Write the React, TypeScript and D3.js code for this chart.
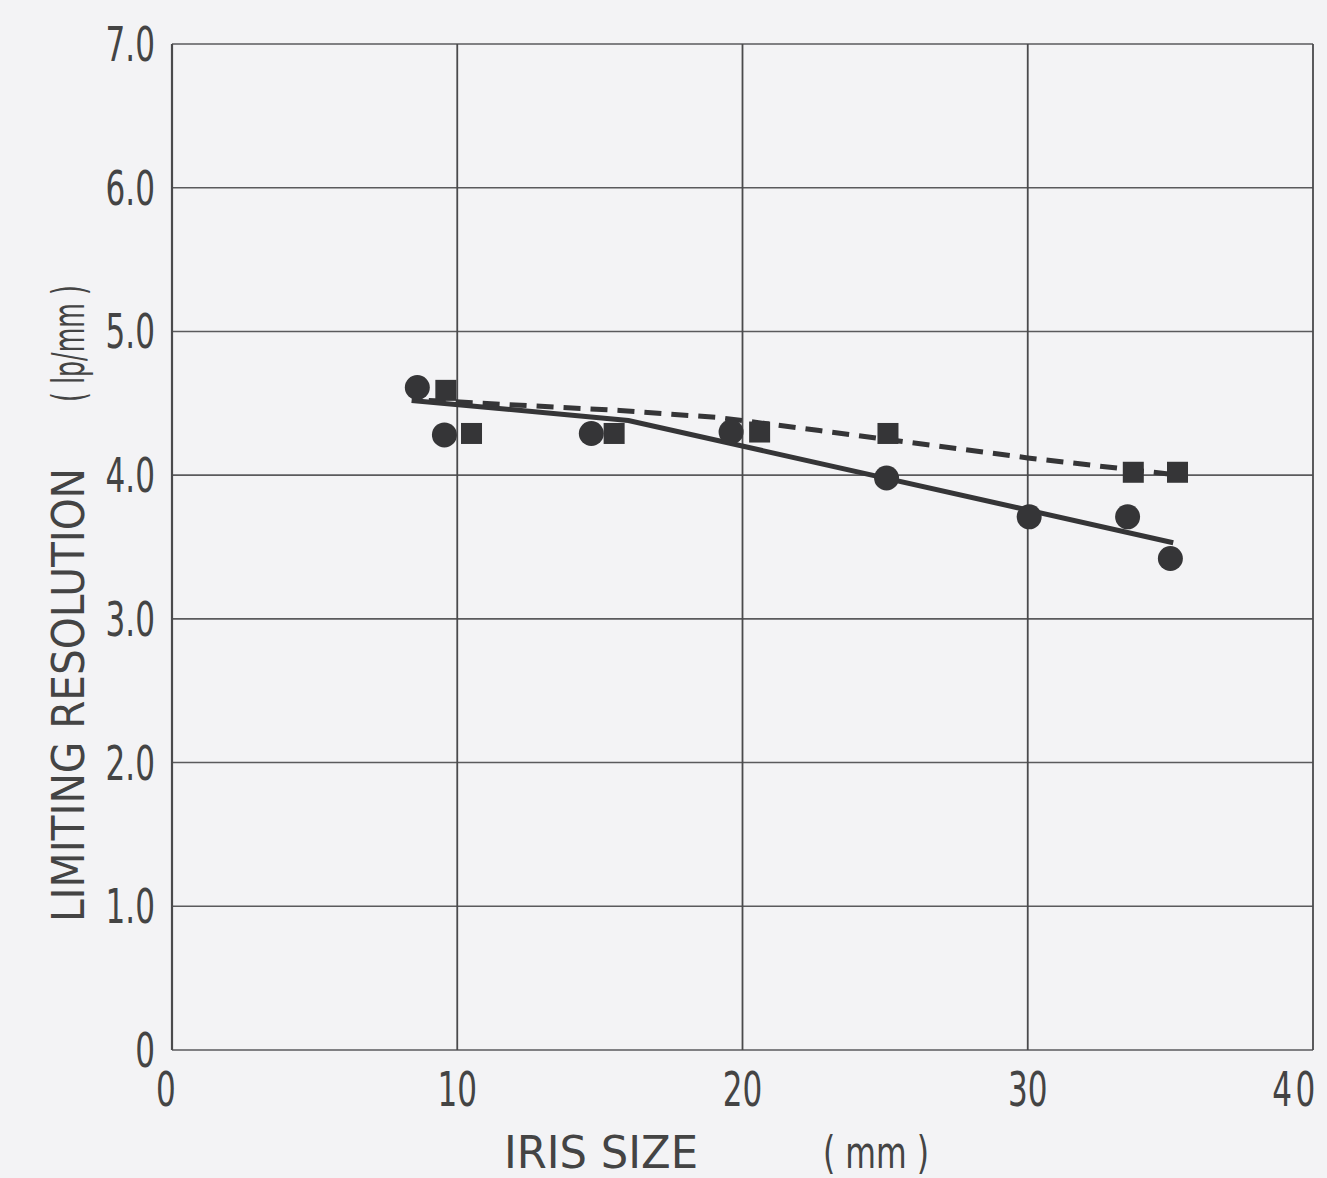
import React from "react";
import * as d3 from "d3";

// circles (solid series)
const circleX = [8.6, 9.55, 14.7, 19.6, 25.05, 30.05, 33.5, 35.0];
const circleY = [4.61, 4.28, 4.29, 4.3, 3.98, 3.71, 3.71, 3.42];
// squares (dashed series)
const squareX = [9.6, 10.5, 15.5, 20.6, 25.1, 33.7, 35.25];
const squareY = [4.59, 4.29, 4.29, 4.3, 4.29, 4.02, 4.02];
// fitted curves
const solidX = [8.4, 16.0, 35.1];
const solidY = [4.52, 4.38, 3.53];
const dashX = [9.0, 15.7, 19.2, 22.7, 30.0, 35.3];
const dashY = [4.52, 4.45, 4.4, 4.31, 4.12, 4.0];

const xTicks = [0, 10, 20, 30, 40];
const yTicks = [0, 1, 2, 3, 4, 5, 6, 7];
const yTickLabels = ["0", "1.0", "2.0", "3.0", "4.0", "5.0", "6.0", "7.0"];

const W = 1327;
const H = 1178;
const ink = "#353537";
const font = "'Liberation Sans Narrow', 'DejaVu Sans Condensed', sans-serif";

const x = d3.scaleLinear().domain([0, 40]).range([172, 1313]);
const y = d3.scaleLinear().domain([0, 7]).range([1050, 44]);

const line = d3
	.line<[number, number]>()
	.x(d => x(d[0]))
	.y(d => y(d[1]));

export default function App() {
	const solid = solidX.map((v, i) => [v, solidY[i]] as [number, number]);
	const dashed = dashX.map((v, i) => [v, dashY[i]] as [number, number]);
	return (
		<svg
			width={W}
			height={H}
			style={{ position: "absolute", left: 0, top: 0 }}
			viewBox={`0 0 ${W} ${H}`}>
			<rect width={W} height={H} fill="#f3f3f5" />
			{/* grid */}
			{yTicks.map(t => (
				<line
					key={"gy" + t}
					x1={x(0)}
					x2={x(40)}
					y1={y(t)}
					y2={y(t)}
					stroke="#5a5a5c"
					strokeWidth={1.6}
				/>
			))}
			{xTicks.map(t => (
				<line
					key={"gx" + t}
					x1={x(t)}
					x2={x(t)}
					y1={y(0)}
					y2={y(7)}
					stroke="#4a4a4c"
					strokeWidth={t === 0 ? 2.2 : 1.8}
				/>
			))}
			{/* curves */}
			<path d={line(solid) || ""} fill="none" stroke={ink} strokeWidth={5} />
			<path
				d={line(dashed) || ""}
				fill="none"
				stroke={ink}
				strokeWidth={5}
				strokeDasharray="17 10"
			/>
			{/* markers */}
			{circleX.map((v, i) => (
				<circle key={"c" + i} cx={x(v)} cy={y(circleY[i])} r={12.5} fill={ink} />
			))}
			{squareX.map((v, i) => (
				<rect
					key={"s" + i}
					x={x(v) - 10.5}
					y={y(squareY[i]) - 10.5}
					width={21}
					height={21}
					fill={ink}
				/>
			))}
			{/* y tick labels */}
			{yTicks.map((t, i) => (
				<text
					key={"ly" + t}
					transform={`translate(155, ${y(t) + 17}) scale(0.72, 1)`}
					textAnchor="end"
					fontFamily={font}
					fontSize={48}
					fill="#444">
					{yTickLabels[i]}
				</text>
			))}
			{/* x tick labels */}
			{xTicks.map(t => (
				<text
					key={"lx" + t}
					transform={`translate(${t === 40 ? x(t) + 6 : t === 0 ? x(t) - 6 : x(t)}, 1106) scale(0.72, 1)`}
					textAnchor={t === 40 ? "end" : "middle"}
					fontFamily={font}
					fontSize={48}
					letterSpacing={t === 40 ? 5 : 0}
					fill="#444">
					{t}
				</text>
			))}
			{/* axis titles */}
			<text
				x={504}
				y={1168}
				fontFamily={font}
				fontSize={44}
				fill="#444"
				textLength={194}
				lengthAdjust="spacingAndGlyphs">
				IRIS SIZE
			</text>
			<text
				x={823}
				y={1168}
				fontFamily={font}
				fontSize={44}
				fill="#444"
				textLength={106}
				lengthAdjust="spacingAndGlyphs">
				( mm )
			</text>
			<g transform="translate(84, 922) rotate(-90)">
				<text
					x={0}
					y={0}
					fontFamily={font}
					fontSize={45}
					fill="#444"
					textLength={454}
					lengthAdjust="spacingAndGlyphs">
					LIMITING RESOLUTION
				</text>
				<text
					x={520}
					y={0}
					fontFamily={font}
					fontSize={45}
					fill="#444"
					textLength={117}
					lengthAdjust="spacingAndGlyphs">
					( lp/mm )
				</text>
			</g>
		</svg>
	);
}
